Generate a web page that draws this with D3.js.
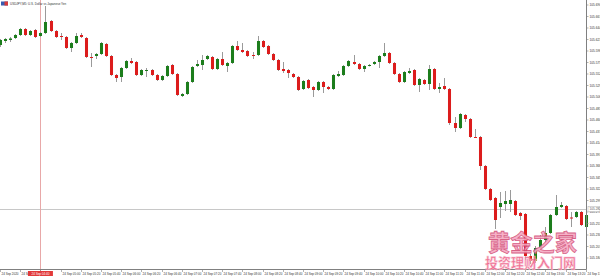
<!DOCTYPE html>
<html>
<head>
<meta charset="utf-8">
<script src="https://cdn.jsdelivr.net/npm/d3@7"></script>
<style>
  body { margin: 0; background: #fff; }
  svg { display: block; }
</style>
</head>
<body>
<div id="chart"></div>
<script>
// USDJPY M5 candles
var opens = [105.610,105.618,105.620,105.624,105.630,105.642,105.630,105.640,105.628,105.634,
  105.658,105.638,105.628,105.626,105.604,105.614,105.630,105.624,105.586,105.588,
  105.592,105.612,105.588,105.550,105.546,105.564,105.578,105.576,105.550,105.559,
  105.560,105.550,105.540,105.548,105.570,105.552,105.508,105.512,105.536,105.568,
  105.570,105.582,105.586,105.562,105.582,105.568,105.574,105.608,105.600,105.598,
  105.590,105.590,105.618,105.608,105.592,105.580,105.562,105.560,105.552,105.546,
  105.522,105.540,105.526,105.520,105.536,105.526,105.522,105.548,105.550,105.568,
  105.576,105.572,105.562,105.569,105.572,105.576,105.588,105.594,105.574,105.552,
  105.536,105.554,105.560,105.530,105.540,105.532,105.562,105.522,105.528,105.522,
  105.454,105.444,105.470,105.462,105.426,105.426,105.368,105.322,105.304,105.286,
  105.292,105.292,105.298,105.274,105.272,105.188,105.178,105.204,105.220,105.234,
  105.270,105.286,105.288,105.265,105.266,105.276,105.246];
var highs = [105.622,105.624,105.626,105.632,105.644,105.644,105.640,105.642,105.636,105.688,
  105.660,105.640,105.634,105.628,105.616,105.634,105.634,105.626,105.594,105.594,
  105.616,105.614,105.590,105.552,105.566,105.580,105.584,105.578,105.562,105.564,
  105.562,105.552,105.550,105.570,105.572,105.554,105.514,105.538,105.568,105.580,
  105.590,105.590,105.588,105.584,105.596,105.576,105.610,105.618,105.614,105.600,
  105.596,105.628,105.620,105.610,105.594,105.582,105.576,105.562,105.554,105.548,
  105.540,105.542,105.528,105.538,105.538,105.528,105.552,105.558,105.570,105.580,
  105.590,105.574,105.570,105.572,105.578,105.590,105.614,105.596,105.576,105.554,
  105.558,105.564,105.562,105.544,105.542,105.570,105.564,105.534,105.544,105.524,
  105.466,105.474,105.472,105.464,105.442,105.428,105.370,105.324,105.306,105.316,
  105.318,105.320,105.300,105.276,105.274,105.192,105.208,105.230,105.246,105.272,
  105.310,105.296,105.290,105.276,105.278,105.278,105.272];
var lows = [105.606,105.614,105.616,105.622,105.628,105.628,105.628,105.624,105.626,105.632,
  105.636,105.624,105.620,105.602,105.596,105.612,105.624,105.584,105.566,105.582,
  105.590,105.586,105.548,105.536,105.536,105.562,105.572,105.548,105.548,105.546,
  105.548,105.538,105.538,105.546,105.550,105.508,105.506,105.510,105.534,105.566,
  105.560,105.580,105.560,105.560,105.568,105.556,105.572,105.598,105.594,105.586,
  105.582,105.588,105.604,105.590,105.578,105.558,105.554,105.544,105.544,105.518,
  105.520,105.522,105.506,105.518,105.514,105.520,105.520,105.546,105.548,105.566,
  105.570,105.560,105.556,105.567,105.570,105.564,105.586,105.572,105.550,105.534,
  105.534,105.552,105.528,105.516,105.530,105.520,105.520,105.514,105.520,105.450,
  105.436,105.442,105.456,105.424,105.424,105.360,105.320,105.298,105.242,105.264,
  105.278,105.276,105.268,105.260,105.180,105.172,105.174,105.200,105.216,105.232,
  105.268,105.284,105.260,105.246,105.264,105.248,105.242];
var closes = [105.620,105.622,105.623,105.630,105.642,105.630,105.638,105.626,105.634,105.656,
  105.638,105.626,105.626,105.604,105.614,105.628,105.626,105.586,105.585,105.592,
  105.614,105.588,105.550,105.544,105.564,105.578,105.574,105.550,105.560,105.560,
  105.550,105.540,105.548,105.568,105.552,105.510,105.512,105.536,105.566,105.572,
  105.580,105.588,105.562,105.582,105.570,105.574,105.608,105.600,105.596,105.588,
  105.589,105.618,105.606,105.592,105.580,105.560,105.558,105.554,105.546,105.520,
  105.538,105.524,105.520,105.536,105.526,105.522,105.550,105.552,105.568,105.578,
  105.572,105.562,105.568,105.570,105.576,105.588,105.594,105.574,105.552,105.536,
  105.556,105.558,105.530,105.542,105.532,105.562,105.522,105.526,105.522,105.454,
  105.444,105.472,105.462,105.426,105.425,105.368,105.322,105.300,105.260,105.294,
  105.298,105.300,105.270,105.268,105.188,105.178,105.204,105.220,105.234,105.270,
  105.286,105.290,105.262,105.264,105.276,105.250,105.270];

var priceTicks = ["105.690","105.667","105.644","105.621","105.598","105.575","105.552","105.529",
  "105.506","105.483","105.460","105.437","105.414","105.391","105.368","105.345","105.322",
  "105.299","105.276","105.253","105.230","105.207","105.184"];
var timeTicks = ["24 Sep 2020","24 Sep 04:20","24 Sep 04:40","24 Sep 05:00","24 Sep 05:20",
  "24 Sep 05:40","24 Sep 06:00","24 Sep 06:20","24 Sep 06:40","24 Sep 07:00","24 Sep 07:20",
  "24 Sep 07:40","24 Sep 08:00","24 Sep 08:20","24 Sep 08:40","24 Sep 09:00","24 Sep 09:20",
  "24 Sep 09:40","24 Sep 10:00","24 Sep 10:20","24 Sep 10:40","24 Sep 11:00","24 Sep 11:20",
  "24 Sep 11:40","24 Sep 12:00","24 Sep 12:20","24 Sep 12:40","24 Sep 13:00","24 Sep 13:20",
  "24 Sep 13:40"];
var barsPerLabel = 4;
var crossBar = 8;
var crossLabel = "24 Sep 04:40";
var lastPrice = 105.282;
var lastPriceLabel = "105.282";
var title = "USDJPY,M5:  U.S. Dollar vs Japanese Yen";

var W = 600, H = 276, axisX = 586.5, axisY = 269.5;

var svg = d3.select("#chart").append("svg").attr("width", W).attr("height", H);

var x = d3.scaleBand().domain(d3.range(opens.length)).range([-2.5, 588.35]).padding(0);
var y = d3.scaleLinear().domain([105.160, 105.700]).range([270, 0]);
var cx = function(i) { return x(i) + x.bandwidth() / 2; };

var candles = opens.map(function(o, i) { return {i: i, o: o, h: highs[i], l: lows[i], c: closes[i]}; });

// current price line
svg.append("line").attr("x1", 0).attr("x2", axisX).attr("y1", Math.round(y(lastPrice)) + 0.5).attr("y2", Math.round(y(lastPrice)) + 0.5)
  .style("stroke", "#c8c8c8").style("stroke-width", 1);

// crosshair
svg.append("line").attr("x1", Math.round(cx(crossBar)) + 0.5).attr("x2", Math.round(cx(crossBar)) + 0.5).attr("y1", 0).attr("y2", 272)
  .style("stroke", "#e8a8a8").style("stroke-width", 1);

var g = svg.append("g").attr("class", "candles");

g.selectAll("line.wick").data(candles).enter().append("line").attr("class", "wick")
  .attr("x1", function(d) { return Math.round(cx(d.i)) + 0.5; })
  .attr("x2", function(d) { return Math.round(cx(d.i)) + 0.5; })
  .attr("y1", function(d) { return y(d.h); })
  .attr("y2", function(d) { return y(d.l); })
  .style("stroke", "#9a9a9a").style("stroke-width", 1);

g.selectAll("rect.body").data(candles).enter().append("rect").attr("class", "body")
  .attr("x", function(d) { return Math.round(cx(d.i)) + 0.5 - x.bandwidth() * 0.3; })
  .attr("width", x.bandwidth() * 0.6)
  .attr("y", function(d) { return y(Math.max(d.o, d.c)); })
  .attr("height", function(d) { return Math.max(1, Math.abs(y(d.o) - y(d.c))); })
  .style("fill", function(d) { return d.c >= d.o ? "#1c7d1c" : "#dc1c1c"; });

// right price axis
svg.append("line").attr("x1", axisX).attr("x2", axisX).attr("y1", 0).attr("y2", axisY).style("stroke", "#808080");
var pt = svg.append("g").selectAll("g.ptick").data(priceTicks).enter().append("g").attr("class", "ptick")
  .attr("transform", function(d) { return "translate(" + axisX + "," + y(+d) + ")"; });
pt.append("line").attr("x1", 0).attr("x2", 2).style("stroke", "#808080").style("stroke-width", 0.6);
pt.append("text").attr("x", 3).attr("y", 1).style("font-family", "Liberation Sans, Arial").style("font-size", "3.2px").style("fill", "#333").text(function(d) { return d; });

// last price box
svg.append("rect").attr("x", axisX + 1.5).attr("y", y(lastPrice) - 2.5).attr("width", 12).attr("height", 5)
  .style("fill", "#fff").style("stroke", "#b0b0b0").style("stroke-width", 0.5);
svg.append("text").attr("x", axisX + 3).attr("y", y(lastPrice) + 1.2).style("font-family", "Liberation Sans, Arial")
  .style("font-size", "3.2px").style("fill", "#555").text(lastPriceLabel);

// bottom time axis
svg.append("line").attr("x1", 0).attr("x2", axisX).attr("y1", axisY).attr("y2", axisY).style("stroke", "#808080");
var tt = svg.append("g").selectAll("g.ttick").data(timeTicks).enter().append("g").attr("class", "ttick")
  .attr("transform", function(d, i) { return "translate(" + (Math.round(cx(i * barsPerLabel)) + 0.5) + "," + axisY + ")"; });
tt.append("line").attr("y1", 0).attr("y2", 2.5).style("stroke", "#808080").style("stroke-width", 0.6);
// the tick under the crosshair is covered by the red time box, which carries the same text
tt.filter(function(d) { return d != crossLabel; })
  .append("text").attr("x", 1).attr("y", 5).style("font-family", "Liberation Sans, Arial").style("font-size", "3px").style("fill", "#333").text(function(d) { return d; });

// crosshair time label
svg.append("rect").attr("x", cx(crossBar) - 12.5).attr("y", 271).attr("width", 25).attr("height", 5).style("fill", "#e23a3a");
svg.append("text").attr("x", cx(crossBar)).attr("y", 275).attr("text-anchor", "middle").style("font-family", "Liberation Sans, Arial")
  .style("font-size", "3px").style("fill", "#fff").text(crossLabel);

// title + icon
svg.append("rect").attr("x", 1).attr("y", 1.5).attr("width", 7).attr("height", 4).style("fill", "#3a5db0");
svg.append("rect").attr("x", 4.5).attr("y", 1.5).attr("width", 3.5).attr("height", 4).style("fill", "#d83a3a");
svg.append("text").attr("x", 10).attr("y", 4.6).style("font-family", "Liberation Sans, Arial").style("font-size", "3px").style("fill", "#333").text(title);

// watermark
svg.append("text").attr("x", 488).attr("y", 251).attr("textLength", 89).attr("lengthAdjust", "spacingAndGlyphs")
  .style("font-family", "Noto Sans CJK SC").style("font-weight", "bold").style("font-size", "23px")
  .style("fill", "#f6a9c2").style("stroke", "#d4507a").style("stroke-width", 0.8).style("opacity", 0.9).text("黄金之家");
svg.append("text").attr("x", 485).attr("y", 267.5).attr("textLength", 91).attr("lengthAdjust", "spacingAndGlyphs")
  .style("font-family", "Noto Sans CJK SC").style("font-weight", "bold").style("font-size", "13.5px")
  .style("fill", "#ee5f86").style("stroke", "#f9c6d6").style("stroke-width", 0.5).style("opacity", 0.9).text("投资理财入门网");
</script>
</body>
</html>
